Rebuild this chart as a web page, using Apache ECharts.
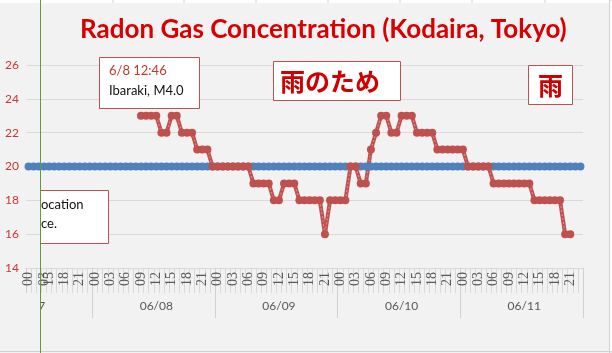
<!DOCTYPE html>
<html>
<head>
<meta charset="utf-8">
<script src="https://cdn.jsdelivr.net/npm/echarts@6/dist/echarts.min.js"></script>
<style>
  html, body { margin: 0; padding: 0; background: #ffffff; }
  #chart { width: 612px; height: 353px; }
</style>
</head>
<body>
<div id="chart"></div>
<script>
// days on the outer label level, hours on the inner one
const days = ['06/07', '06/08', '06/09', '06/10', '06/11'];
const firstDayHours = [0, 1, 2, 3, 15, 16, 17, 18, 19, 20, 21, 22, 23];
const fullDayHours = [0, 1, 2, 3, 4, 5, 6, 7, 8, 9, 10, 11, 12, 13, 14, 15, 16, 17, 18, 19, 20, 21, 22, 23];
const yTicks = [14, 16, 18, 20, 22, 24, 26];

// reference level (blue)
const baseline = [
  20, 20, 20, 20, 20, 20, 20, 20, 20, 20, 20, 20, 20,
  20, 20, 20, 20, 20, 20, 20, 20, 20, 20, 20, 20, 20, 20, 20, 20, 20, 20, 20, 20, 20, 20, 20, 20,
  20, 20, 20, 20, 20, 20, 20, 20, 20, 20, 20, 20, 20, 20, 20, 20, 20, 20, 20, 20, 20, 20, 20, 20,
  20, 20, 20, 20, 20, 20, 20, 20, 20, 20, 20, 20, 20, 20, 20, 20, 20, 20, 20, 20, 20, 20, 20, 20,
  20, 20, 20, 20, 20, 20, 20, 20, 20, 20, 20, 20, 20, 20, 20, 20, 20, 20, 20, 20, 20, 20, 20, 20
];

// radon readings (red)
const radon = [
  null, null, null, null, null, null, null, null, null, null, null, null, null,
  null, null, null, null, null, null, null, null, null, 23, 23, 23, 23, 22, 22, 23, 23, 22, 22, 22, 21, 21, 21, 20,
  20, 20, 20, 20, 20, 20, 20, 19, 19, 19, 19, 18, 18, 19, 19, 19, 18, 18, 18, 18, 18, 16, 18, 18,
  18, 18, 20, 20, 19, 19, 21, 22, 23, 23, 22, 22, 23, 23, 23, 22, 22, 22, 22, 21, 21, 21, 21, 21,
  21, 20, 20, 20, 20, 20, 19, 19, 19, 19, 19, 19, 19, 19, 18, 18, 18, 18, 18, 18, 16, 16, null, null
];

const pad2 = (n) => (n < 10 ? '0' : '') + n;

let categories = [];
let dayStart = [];
let dayLabelAt = [];
days.forEach((d, di) => {
  let hours = di === 0 ? firstDayHours : fullDayHours;
  dayStart.push(categories.length);
  // first group label sits at its left edge, the others centred
  dayLabelAt.push(di === 0 ? categories.length : categories.length + Math.floor(hours.length / 2));
  hours.forEach((h) => categories.push(d + ' ' + pad2(h)));
});
dayStart.push(categories.length);

const red = '#c0504d';
const blue = '#4f81bd';
const boxBorder = '#c0504d';

function box(x, y, w, h) {
  return {
    type: 'rect', z: 100,
    shape: { x: x, y: y, width: w, height: h },
    style: { fill: '#ffffff', stroke: boxBorder, lineWidth: 1 }
  };
}
function label(x, y, text, color, size, weight, family) {
  return {
    type: 'text', z: 101, x: x, y: y,
    style: {
      text: text, fill: color,
      font: (weight || 'normal') + ' ' + size + 'px ' + (family || 'Lato'),
      textVerticalAlign: 'middle'
    }
  };
}

let chart = echarts.init(document.getElementById('chart'));
let topCells = [113, 184, 256, 328, 400, 472, 545].map((x) => ({
  type: 'line', z: 1, shape: { x1: x, y1: 0, x2: x, y2: 3 },
  style: { stroke: '#d4d4d4', lineWidth: 1 }
}));

chart.setOption({
  animation: false,
  backgroundColor: '#f2f2f2',
  title: {
    text: 'Radon Gas Concentration (Kodaira, Tokyo)',
    left: 75, top: 12,
    textStyle: { color: '#d80000', fontSize: 26, fontWeight: 'bold', fontFamily: 'Lato' }
  },
  grid: { left: 26, right: 29, top: 65, bottom: 85 },
  xAxis: [{
    type: 'category',
    data: categories,
    boundaryGap: true,
    axisLine: { show: true, lineStyle: { color: '#d9d9d9' } },
    axisTick: { show: true, interval: 0, length: 25, lineStyle: { color: '#d9d9d9' } },
    axisLabel: {
      interval: (i, v) => parseInt(v.split(' ')[1], 10) % 3 === 0,
      formatter: (v) => v.split(' ')[1],
      rotate: 90, margin: 4,
      color: '#595959', fontSize: 14, fontFamily: 'Liberation Serif'
    },
    splitLine: { show: false }
  }, {
    type: 'category',
    data: categories,
    boundaryGap: true,
    position: 'bottom',
    axisLine: { show: false },
    axisTick: {
      show: true, length: 50,
      interval: (i) => dayStart.indexOf(i) >= 0,
      lineStyle: { color: '#d0d0d0' }
    },
    axisLabel: {
      interval: (i) => dayLabelAt.indexOf(i) >= 0,
      formatter: (v) => v.split(' ')[0],
      margin: 32,
      color: '#595959', fontSize: 12, fontFamily: 'Lato'
    }
  }],
  yAxis: {
    type: 'value',
    min: yTicks[0], max: yTicks[yTicks.length - 1], interval: 2,
    axisLine: { show: false },
    axisTick: { show: false },
    axisLabel: { color: '#c8352f', fontSize: 12, fontFamily: 'Lato', margin: 7 },
    splitLine: { lineStyle: { color: '#d9d9d9' } }
  },
  series: [{
    type: 'line', data: baseline, xAxisIndex: 0,
    symbol: 'circle', symbolSize: 8, showAllSymbol: true,
    itemStyle: { color: blue },
    lineStyle: { color: blue, width: 4 }
  }, {
    type: 'line', data: baseline, xAxisIndex: 0,
    showSymbol: false,
    lineStyle: { color: '#b9cfea', width: 1, type: [2, 2] }
  }, {
    type: 'line', data: radon, xAxisIndex: 0,
    symbol: 'circle', symbolSize: 8, showAllSymbol: true,
    itemStyle: { color: red },
    lineStyle: { color: red, width: 4 }
  }, {
    type: 'line', data: radon, xAxisIndex: 0,
    showSymbol: false,
    lineStyle: { color: '#dc9896', width: 1, type: [2, 2] }
  }],
  graphic: [
    { type: 'rect', z: 1, shape: { x: 0, y: 0, width: 612, height: 3 }, style: { fill: '#ffffff' } },
    { type: 'rect', z: 1, shape: { x: 609.5, y: 0, width: 3, height: 353 }, style: { fill: '#ffffff', stroke: '#d0d0d0' } },
    { type: 'line', z: 1, shape: { x1: 0, y1: 351.5, x2: 612, y2: 351.5 }, style: { stroke: '#d0d0d0' } }
  ].concat(topCells).concat([
    // hidden part of the first day label
    { type: 'rect', z: 90, shape: { x: 0, y: 293, width: 40, height: 28 }, style: { fill: '#f2f2f2' } },
    box(99.5, 57.5, 100, 51),
    label(109, 71, '6/8 12:46', '#c0392b', 13),
    label(109, 91, 'Ibaraki, M4.0', '#111111', 13),
    box(273.5, 61.5, 127, 39),
    label(280, 81, '雨のため', '#d00000', 25, 'bold', '"Noto Sans CJK JP"'),
    box(528.5, 65.5, 44, 39),
    label(538, 85, '雨', '#d00000', 25, 'bold', '"Noto Sans CJK JP"'),
    box(40.5, 190.5, 68, 53),
    label(41, 205, 'ocation', '#111111', 13),
    label(41, 224, 'ce.', '#111111', 13),
    { type: 'line', z: 120, shape: { x1: 40.5, y1: 0, x2: 40.5, y2: 353 }, style: { stroke: '#5e9b3c', lineWidth: 1 } }
  ])
});
</script>
</body>
</html>
